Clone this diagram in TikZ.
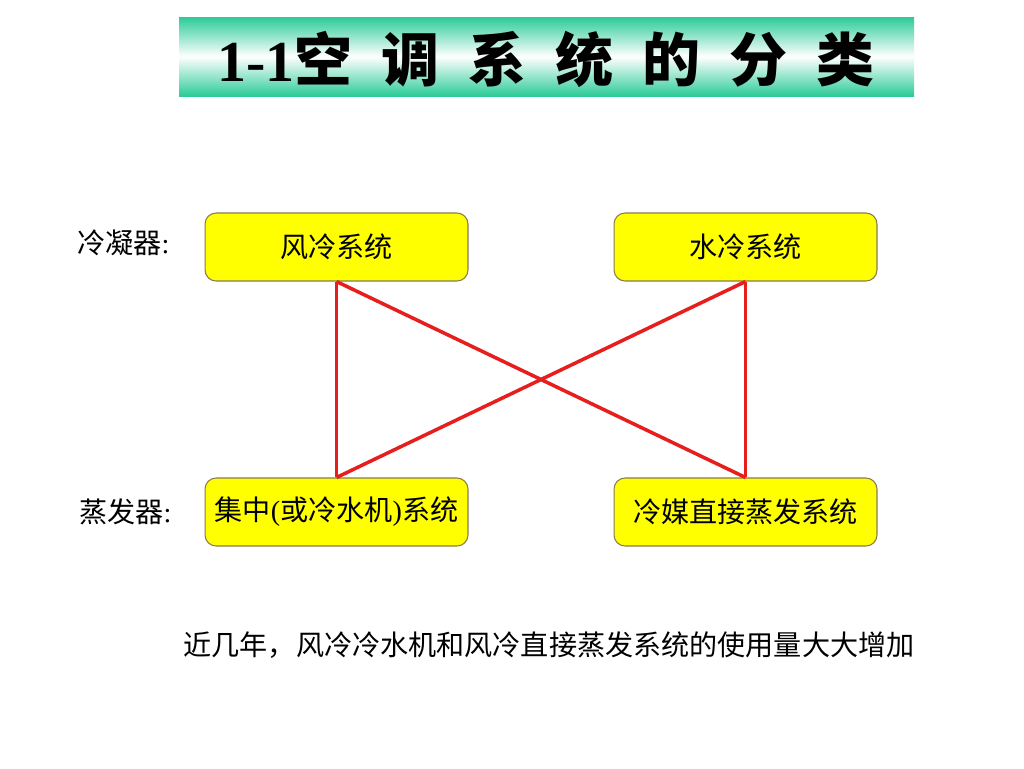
\documentclass[tikz,border=0pt]{standalone}
\usepackage{fontspec}
\setmainfont{Liberation Serif}
\newfontfamily\cjk{Noto Sans CJK SC}
\newfontfamily\cjkbf{Noto Sans CJK SC Bold}
\definecolor{bannergreen}{HTML}{2CCB98}
\definecolor{boxfill}{HTML}{FFFF00}
\definecolor{boxedge}{HTML}{8A7C4E}
\definecolor{linkred}{HTML}{E61E1E}
\tikzset{
  sysbox/.style={draw=boxedge, fill=boxfill, line width=0.6pt, rounded corners=0.22cm,
    minimum width=5.26cm, minimum height=1.36cm, inner sep=0pt,
    font=\cjk\fontsize{16pt}{19pt}\selectfont},
  rowlbl/.style={anchor=west, inner sep=0pt, font=\cjk\fontsize{16pt}{19pt}\selectfont},
  link/.style={draw=linkred, line width=2pt},
  note/.style={inner sep=0pt, font=\cjk\fontsize{16pt}{19pt}\selectfont},
}
\newcommand{\gap}{\hspace{0.5em}}

\begin{document}
\begin{tikzpicture}[x=0.02cm, y=-0.02cm]

  \useasboundingbox (0,0) rectangle (1024,768);
  \fill[white] (0,0) rectangle (1024,768);

  % title banner
  \shade[top color=bannergreen, bottom color=bannergreen, middle color=white]
      (179,17) rectangle (914,96);
  \node[inner sep=0pt] (title) at (546,59)
      {\fontsize{33pt}{38pt}\selectfont\bfseries 1-1\cjkbf 空\gap 调\gap 系\gap 统\gap 的\gap 分\gap 类};

  \node[sysbox] (fl) at (336.5,247) {风冷系统};
  \node[sysbox] (sl) at (745.5,247) {水冷系统};
  \node[sysbox] (jz) at (336.5,512) {集中\textrm{(}或冷水机\textrm{)}系统};
  \node[sysbox] (lm) at (745.5,512) {冷媒直接蒸发系统};

  \node[rowlbl] (lny) at (77,243) {冷凝器\textrm{:}};
  \node[rowlbl] (zfq) at (79,512) {蒸发器\textrm{:}};

  \draw[link] (fl.south) -- (jz.north);
  \draw[link] (fl.south) -- (lm.north);
  \draw[link] (sl.south) -- (lm.north);
  \draw[link] (sl.south) -- (jz.north);

  \node[note] (trend) at (549,645) {近几年，风冷冷水机和风冷直接蒸发系统的使用量大大增加};

\end{tikzpicture}
\end{document}
